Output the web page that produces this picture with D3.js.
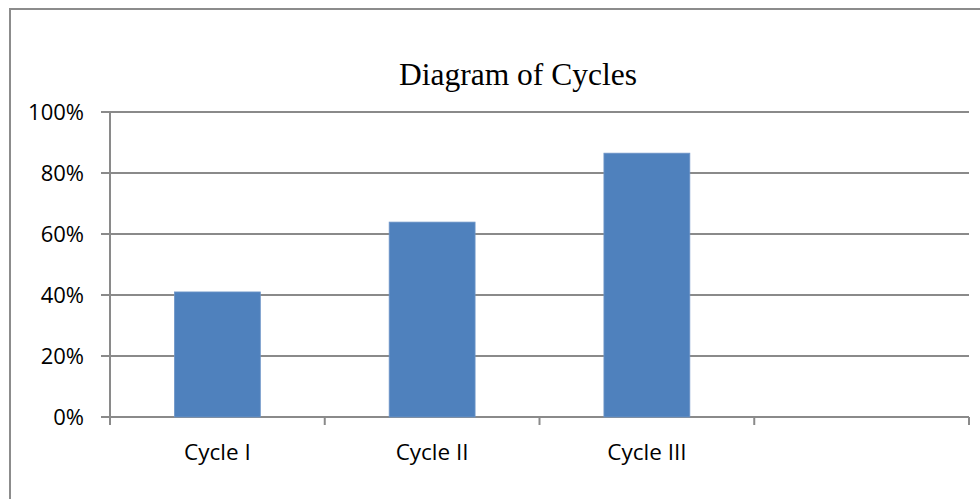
<!DOCTYPE html>
<html>
<head>
<meta charset="utf-8">
<script src="https://cdn.jsdelivr.net/npm/d3@7"></script>
<style>
  body { margin: 0; background: #fff; }
  svg { display: block; }
</style>
</head>
<body>
<svg id="chart"></svg>
<script>
// Chart data
const categories = ["Cycle I", "Cycle II", "Cycle III", ""];
const values = [0.41, 0.639, 0.865, null];
const yTicks = [0, 0.2, 0.4, 0.6, 0.8, 1.0];
const title = "Diagram of Cycles";

const width = 980, height = 499;
const margin = { left: 110, right: 11, top: 112, bottom: 82 };
const gridColor = "#8a8a8a";

const svg = d3.select("#chart")
    .attr("width", width)
    .attr("height", height);

// outer frame (only left and top edges visible)
svg.append("path")
    .attr("d", `M10,${height} L10,9 L${width},9`)
    .attr("fill", "none")
    .attr("stroke", "#8c8c8c")
    .attr("stroke-width", 2);

const x = d3.scaleBand()
    .domain(d3.range(categories.length))
    .range([margin.left, width - margin.right])
    .paddingInner(0.6)
    .paddingOuter(0.3);

const xEdges = d3.scaleLinear()
    .domain([0, categories.length])
    .range([margin.left, width - margin.right]);

const y = d3.scaleLinear()
    .domain([0, 1])
    .range([height - margin.bottom, margin.top]);

// gridlines
svg.append("g")
    .selectAll("line")
    .data(yTicks)
    .enter()
    .append("line")
    .attr("x1", margin.left - 9)
    .attr("x2", width - margin.right)
    .attr("y1", d => y(d))
    .attr("y2", d => y(d))
    .attr("stroke", gridColor)
    .attr("stroke-width", 2);

// y axis line
svg.append("line")
    .attr("x1", margin.left).attr("x2", margin.left)
    .attr("y1", y(1)).attr("y2", y(0) + 8)
    .attr("stroke", gridColor)
    .attr("stroke-width", 2);

// x axis tick marks on category boundaries
svg.append("g")
    .selectAll("line")
    .data(d3.range(1, categories.length + 1))
    .enter()
    .append("line")
    .attr("x1", d => xEdges(d))
    .attr("x2", d => xEdges(d))
    .attr("y1", y(0))
    .attr("y2", y(0) + 8)
    .attr("stroke", gridColor)
    .attr("stroke-width", 2);

// y tick labels
svg.append("g")
    .selectAll("text")
    .data(yTicks)
    .enter()
    .append("text")
    .attr("x", 84)
    .attr("y", d => y(d))
    .attr("dy", "0.36em")
    .attr("text-anchor", "end")
    .attr("font-family", "Open Sans, sans-serif")
    .attr("font-size", 22)
    .attr("fill", "#000")
    .text(d => d3.format(".0%")(d));

// bars
svg.append("g")
    .selectAll("rect")
    .data(values.map((v, i) => ({ v, i })).filter(d => d.v != null))
    .enter()
    .append("rect")
    .attr("x", d => x(d.i))
    .attr("width", x.bandwidth())
    .attr("y", d => y(d.v))
    .attr("height", d => y(0) - y(d.v))
    .attr("fill", "#4f81bd")
    .attr("stroke", "#6f96c8")
    .attr("stroke-width", 0.8);

// category labels
svg.append("g")
    .selectAll("text")
    .data(categories)
    .enter()
    .append("text")
    .attr("x", (d, i) => x(i) + x.bandwidth() / 2)
    .attr("y", 460)
    .attr("text-anchor", "middle")
    .attr("font-family", "Open Sans, sans-serif")
    .attr("font-size", 22.5)
    .attr("fill", "#000")
    .text(d => d);

// title
svg.append("text")
    .attr("x", 518)
    .attr("y", 85)
    .attr("text-anchor", "middle")
    .attr("font-family", "Liberation Serif, Times New Roman, serif")
    .attr("font-size", 31.5)
    .attr("fill", "#000")
    .text(title);
</script>
</body>
</html>
